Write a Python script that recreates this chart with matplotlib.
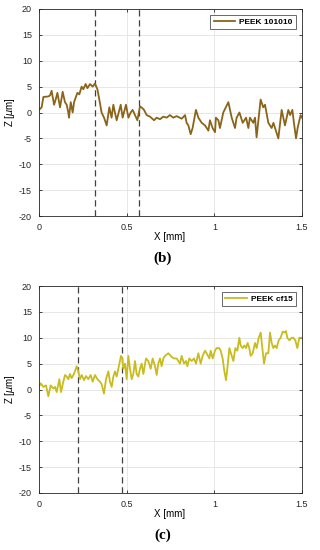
import matplotlib
matplotlib.use("Agg")
import matplotlib.pyplot as plt

# ---- data ----
x_b = [0.000, 0.015, 0.025, 0.053, 0.063, 0.072, 0.086, 0.095, 0.105, 0.120,
       0.135, 0.148, 0.158, 0.167, 0.171, 0.181, 0.192, 0.200, 0.219, 0.230,
       0.243, 0.253, 0.266, 0.276, 0.291, 0.306, 0.319, 0.333, 0.344, 0.357,
       0.371, 0.386, 0.401, 0.414, 0.424, 0.433, 0.443, 0.466, 0.477, 0.496,
       0.510, 0.523, 0.534, 0.561, 0.576, 0.591, 0.599, 0.614, 0.633, 0.656,
       0.671, 0.690, 0.709, 0.728, 0.747, 0.766, 0.785, 0.814, 0.833, 0.842,
       0.852, 0.865, 0.876, 0.895, 0.909, 0.928, 0.947, 0.966, 0.975, 0.990,
       1.004, 1.009, 1.023, 1.032, 1.051, 1.080, 1.099, 1.118, 1.127, 1.143,
       1.162, 1.181, 1.194, 1.203, 1.222, 1.232, 1.241, 1.264, 1.279, 1.289,
       1.308, 1.327, 1.337, 1.365, 1.384, 1.403, 1.422, 1.432, 1.445, 1.454,
       1.466, 1.475, 1.492, 1.500]
z_b = [0.5, 1.0, 3.0, 3.1, 3.3, 4.2, 1.5, 2.5, 3.8, 1.0,
       4.0, 2.0, 1.5, 0.0, -1.0, 2.0, 0.0, 2.0, 3.8, 3.5,
       5.0, 4.5, 5.5, 4.7, 5.5, 5.0, 5.6, 4.5, 2.5, 0.0,
       -1.0, -2.5, 1.0, -1.0, 1.5, 0.0, -1.5, 1.5, -1.0, 1.5,
       -1.0, 0.0, 0.5, -1.5, 1.2, 0.8, 0.5, -0.5, -0.8, -1.5,
       -1.0, -1.3, -0.8, -1.0, -0.5, -1.0, -0.7, -1.2, -0.5, -2.0,
       -2.5, -4.2, -3.0, 0.5, -1.0, -2.0, -2.5, -3.5, -1.5, -3.0,
       -3.8, -1.0, -1.5, -3.0, 0.0, 2.0, -1.0, -3.0, -1.0, 0.0,
       -2.0, -1.0, -3.0, -1.0, -2.0, -1.0, -4.8, 2.5, 1.0, 1.5,
       -2.0, -3.0, -2.0, -5.0, 0.5, -2.5, 0.5, -0.5, 0.5, -2.0,
       -5.0, -3.0, -0.5, -1.0]
px_c = [117, 122, 130, 138, 145, 152, 160, 165, 170, 178, 183, 190, 195, 200, 205,
        210, 215, 222, 230, 235, 240, 245, 252, 258, 265, 272, 278, 285, 292, 300,
        305, 312, 318, 325, 330, 335, 340, 345, 350, 358, 363, 367, 370, 375, 380,
        385, 390, 395, 400, 405, 410, 415, 420, 425, 430, 438, 445, 452, 458, 465,
        470, 475, 480, 485, 490, 495, 505, 515, 522, 530, 540, 545, 552, 558, 562,
        568, 575, 582, 588, 595, 602, 608, 615, 620, 628, 632, 638, 645, 650, 658,
        662, 668, 672, 678, 682, 688, 695, 700, 706, 712, 718, 722, 728, 733, 738,
        743, 748, 752, 758, 765, 770, 776, 782, 788, 792, 798, 805, 810, 815, 820,
        825, 830, 836, 842, 848, 854, 858, 862, 868, 875, 880, 886, 892, 898, 906]
x_c = [round((p - 117) / 526.0, 4) for p in px_c]
z_c = [0.5, 1.2, 0.5, 0.8, -1.3, 0.8, 0.2, 0.5, -0.5, 2.0, -0.5, 1.5, 2.8, 2.5, 2.0,
       3.0, 2.2, 3.0, 4.5, 3.5, 2.0, 2.8, 1.8, 2.6, 2.0, 2.8, 1.5, 2.8, 2.0, 1.5,
       1.0, -0.8, 2.0, 3.5, 1.5, 0.5, 2.5, 3.5, 2.5, 5.0, 6.5, 6.0, 4.0, 5.0, 2.0,
       6.5, 4.0, 2.0, 3.0, 5.5, 3.0, 2.5, 4.0, 5.0, 3.0, 6.0, 5.5, 4.0, 6.0, 4.5,
       2.8, 5.0, 6.0, 4.5, 6.0, 6.5, 7.0, 6.3, 6.0, 6.0, 5.0, 6.5, 5.0, 5.5, 4.5,
       6.0, 5.5, 6.0, 5.0, 7.0, 5.0, 6.5, 7.5, 7.0, 6.0, 7.5, 6.0, 7.5, 8.0, 8.0,
       7.5, 6.0, 4.0, 1.8, 4.0, 8.0, 6.5, 5.5, 8.0, 7.5, 10.0, 8.5, 8.0, 8.5, 8.0,
       9.0, 8.0, 6.5, 7.0, 9.0, 8.0, 10.0, 11.0, 7.5, 5.0, 7.0, 7.0, 11.0, 9.0, 8.0,
       8.5, 8.0, 9.5, 10.0, 11.2, 11.0, 11.3, 10.0, 9.5, 10.0, 10.0, 9.5, 8.0, 10.0, 10.0]
vlines_b = [0.319, 0.572]
vlines_c = [0.221, 0.473]
yticks = [-20, -15, -10, -5, 0, 5, 10, 15, 20]
xticks = [0, 0.5, 1, 1.5]
xtick_labels = ["0", "0.5", "1", "1.5"]

plt.rcParams['font.family'] = ['Liberation Sans', 'DejaVu Sans']
plt.rcParams['axes.unicode_minus'] = False

fig = plt.figure(figsize=(3.2, 5.5), dpi=100)
W, H = 320.0, 550.0

def make_axes(top_px, bot_px):
    return fig.add_axes([39 / W, 1 - bot_px / H, (302 - 39) / W, (bot_px - top_px) / H])

panels = [
    (9, 216, x_b, z_b, "#8a6418", "PEEK 101010", vlines_b, "(b)", 237, 258),
    (286, 493, x_c, z_c, "#c8bc1e", "PEEK cf15", vlines_c, "(c)", 514, 535),
]

for top, bot, xs, zs, col, lab, vls, cap, xl_y, cap_y in panels:
    ax = make_axes(top, bot)
    ax.set_xlim(0, 1.5)
    ax.set_ylim(-20, 20)
    ax.set_xticks(xticks)
    ax.set_xticklabels(xtick_labels)
    ax.set_yticks(yticks)
    ax.grid(True, color="#e3e3e3", linewidth=0.6)
    ax.set_axisbelow(True)
    ax.tick_params(direction="in", length=2.5, width=0.6, labelsize=6.5,
                   colors="#262626", top=True, right=True, pad=5)
    for sp in ax.spines.values():
        sp.set_color("#262626")
        sp.set_linewidth(0.6)
    for v in vls:
        ax.axvline(v, color="#404040", linestyle=(0, (5, 3)), linewidth=0.9)
    ax.plot(xs, zs, color=col, linewidth=1.3, label=lab)
    leg = ax.legend(loc="upper right", fontsize=6, frameon=True, fancybox=False,
                    edgecolor="#262626", handlelength=2.6, borderpad=0.4,
                    handletextpad=0.5, borderaxespad=0.7)
    leg.get_frame().set_linewidth(0.6)
    for t in leg.get_texts():
        t.set_fontweight("bold")
    ax.set_ylabel(r"Z [$\mu$m]", fontsize=7)
    ax.yaxis.set_label_coords(-(39 - 17) / 263.0, 0.5)
    fig.text(170 / W, 1 - xl_y / H, "X [mm]", ha="center", va="center", fontsize=7)
    fig.text(163 / W, 1 - cap_y / H, cap, ha="center", va="center", fontsize=11,
             fontweight="bold", family=["Liberation Serif", "DejaVu Serif"])

fig.savefig("out.png", dpi=100)
